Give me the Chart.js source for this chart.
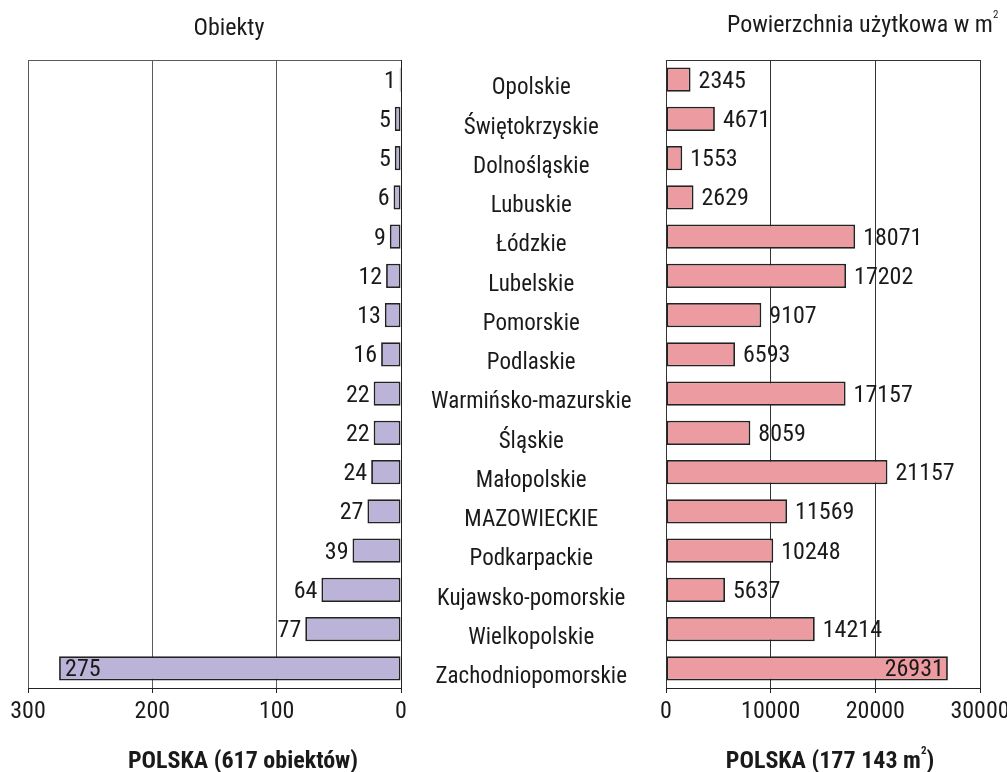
<!DOCTYPE html>
<html>
<head>
<meta charset="utf-8">
<script src="https://cdn.jsdelivr.net/npm/chart.js@4/dist/chart.umd.min.js"></script>
<style>
  html, body { margin: 0; padding: 0; background: #fff; }
  #wrap { position: relative; width: 1007px; height: 772px; overflow: hidden;
          font-family: 'Roboto Condensed', Roboto, sans-serif; color: #1a1a1a; }
  canvas { position: absolute; left: 0; top: 0; }
  .t { position: absolute; white-space: nowrap; font-size: 24px; line-height: 24px; }
  .b { font-weight: bold; }
  .t sup { font-size: 11px; line-height: 0; vertical-align: top; position: relative; top: 3px; }
</style>
</head>
<body>
<div id="wrap">
  <canvas id="cObj" width="1007" height="772"></canvas>
  <canvas id="cArea" width="1007" height="772"></canvas>
  <div class="t" style="left:229px;top:15px;transform:translateX(-50%)">Obiekty</div>
  <div class="t" style="left:727px;top:12px">Powierzchnia użytkowa w m<sup>2</sup></div>
  <div class="t b" style="left:243px;top:748px;transform:translateX(-50%)">POLSKA (617 obiektów)</div>
  <div class="t b" style="left:830px;top:748px;transform:translateX(-50%)">POLSKA (177 143 m<sup>2</sup>)</div>
</div>
<script>
// Voivodeships, top to bottom
const categories = ['Opolskie', 'Świętokrzyskie', 'Dolnośląskie', 'Lubuskie', 'Łódzkie', 'Lubelskie',
  'Pomorskie', 'Podlaskie', 'Warmińsko-mazurskie', 'Śląskie', 'Małopolskie', 'MAZOWIECKIE',
  'Podkarpackie', 'Kujawsko-pomorskie', 'Wielkopolskie', 'Zachodniopomorskie'];
// Number of facilities
const obiekty = [1, 5, 5, 6, 9, 12, 13, 16, 22, 22, 24, 27, 39, 64, 77, 275];
// Usable floor area, m²
const powierzchnia = [2345, 4671, 1553, 2629, 18071, 17202, 9107, 6593, 17157, 8059, 21157, 11569,
  10248, 5637, 14214, 26931];
// Axis tick values
const obiektyTicks = [0, 100, 200, 300];
const powierzchniaTicks = [0, 10000, 20000, 30000];

const FONT = "'Roboto Condensed', Roboto, sans-serif";
const INK = '#1a1a1a';

// value next to each bar; moved inside when there is no room outside
const valueLabels = {
  id: 'valueLabels',
  afterDatasetsDraw(chart, args, opts) {
    const ctx = chart.ctx, area = chart.chartArea;
    const meta = chart.getDatasetMeta(0);
    const data = chart.data.datasets[0].data;
    ctx.save();
    ctx.font = '24px ' + FONT;
    ctx.fillStyle = INK;
    ctx.textBaseline = 'middle';
    meta.data.forEach((bar, i) => {
      const txt = String(data[i]);
      const w = ctx.measureText(txt).width;
      const y = bar.y + 2;
      if (opts.side === 'left') {
        if (bar.x - 4 - w < area.left) { ctx.textAlign = 'left'; ctx.fillText(txt, bar.x + 6, y); }
        else { ctx.textAlign = 'right'; ctx.fillText(txt, bar.x - 4, y); }
      } else {
        if (bar.x + 8 + w > area.right) { ctx.textAlign = 'right'; ctx.fillText(txt, bar.x - 4, y); }
        else { ctx.textAlign = 'left'; ctx.fillText(txt, bar.x + 8, y); }
      }
    });
    ctx.restore();
  }
};

// top edge of the plot frame
const topEdge = {
  id: 'topEdge',
  afterDraw(chart, args, opts) {
    const { ctx, chartArea: a } = chart;
    ctx.save();
    ctx.strokeStyle = opts.color;
    ctx.lineWidth = 1;
    ctx.beginPath();
    ctx.moveTo(a.left, a.top + 0.5);
    ctx.lineTo(a.right, a.top + 0.5);
    ctx.stroke();
    ctx.restore();
  }
};

function xAxis(max, ticks, gridColor, reverse) {
  return {
    type: 'linear', position: 'bottom', min: 0, max: max, reverse: reverse,
    afterBuildTicks: s => { s.ticks = ticks.map(v => ({ value: v })); },
    afterFit: s => { s.height = 84; s.paddingLeft = 0; s.paddingRight = 0; },
    grid: { color: gridColor, lineWidth: 1, drawTicks: true, tickLength: 5, tickColor: '#222' },
    border: { display: true, color: '#222', width: 1 },
    ticks: { font: { family: FONT, size: 24 }, color: INK, padding: 5, maxRotation: 0, autoSkip: false,
             callback: v => String(v) }
  };
}

new Chart(document.getElementById('cObj'), {
  type: 'bar',
  data: {
    labels: categories,
    datasets: [{
      data: obiekty,
      backgroundColor: '#bbb4d8',
      borderColor: '#222',
      borderWidth: 1.8,
      borderSkipped: false,
      categoryPercentage: 1,
      barPercentage: 0.62
    }]
  },
  options: {
    indexAxis: 'y',
    responsive: false,
    animation: false,
    devicePixelRatio: 1,
    layout: { padding: { left: 28, top: 60, right: 341, bottom: 0 } },
    scales: {
      x: xAxis(300, obiektyTicks, '#5a5a5a', true),
      y: {
        type: 'category', position: 'right', offset: true,
        afterFit: s => { s.width = 265; },
        grid: { display: false, drawTicks: false, tickLength: 0 },
        border: { display: true, color: '#222', width: 1 },
        ticks: { font: { family: FONT, size: 23 }, color: INK, crossAlign: 'center', padding: 30,
                 labelOffset: 9, autoSkip: false }
      }
    },
    plugins: {
      legend: { display: false }, tooltip: { enabled: false },
      valueLabels: { side: 'left' }, topEdge: { color: '#5a5a5a' }
    }
  },
  plugins: [valueLabels, topEdge]
});

new Chart(document.getElementById('cArea'), {
  type: 'bar',
  data: {
    labels: categories,
    datasets: [{
      data: powierzchnia,
      backgroundColor: '#ec9ca0',
      borderColor: '#222',
      borderWidth: 1.8,
      borderSkipped: false,
      categoryPercentage: 1,
      barPercentage: 0.62
    }]
  },
  options: {
    indexAxis: 'y',
    responsive: false,
    animation: false,
    devicePixelRatio: 1,
    layout: { padding: { left: 666, top: 60, right: 27, bottom: 0 } },
    scales: {
      x: xAxis(30000, powierzchniaTicks, '#333', false),
      y: { type: 'category', offset: true, display: false }
    },
    plugins: {
      legend: { display: false }, tooltip: { enabled: false },
      valueLabels: { side: 'right' }, topEdge: { color: '#333' }
    }
  },
  plugins: [valueLabels, topEdge]
});
</script>
</body>
</html>
